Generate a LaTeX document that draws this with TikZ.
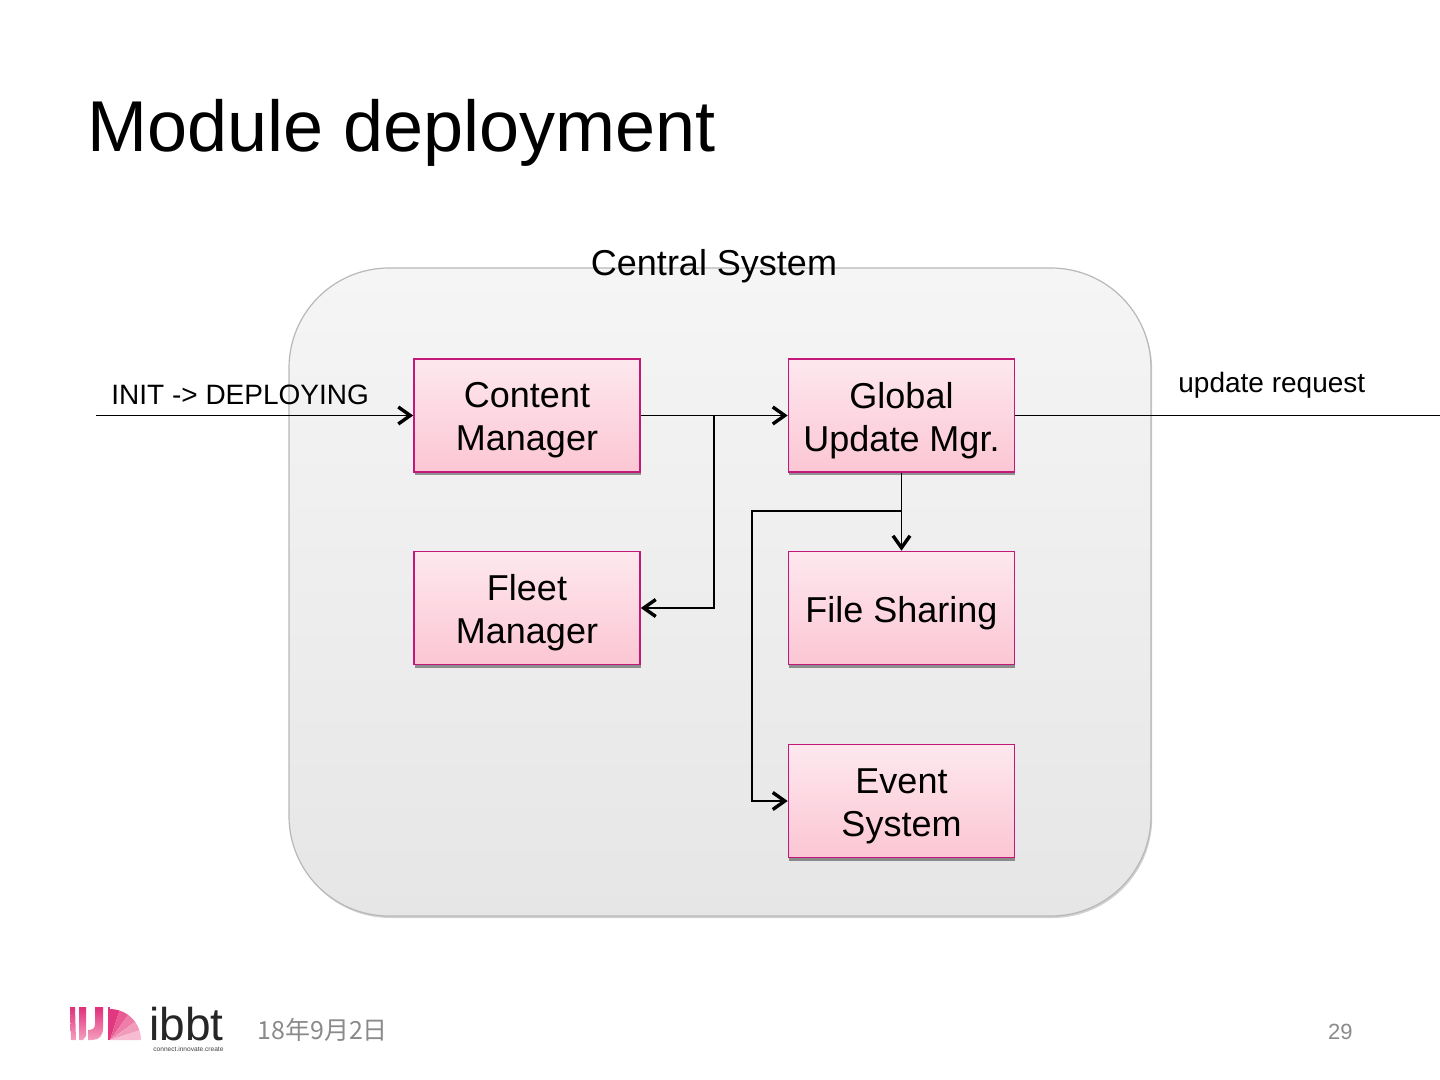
\documentclass[tikz,border=0pt]{standalone}
\usepackage{fontspec}
\setmainfont{Liberation Sans}
\newfontfamily\cjkfont{Noto Sans CJK SC}
\usetikzlibrary{arrows.meta,shadows}
\definecolor{boxborder}{HTML}{C2187A}
\definecolor{boxtop}{HTML}{FDE8EE}
\definecolor{boxbot}{HTML}{FCC6D4}
\definecolor{contop}{HTML}{F5F5F5}
\definecolor{conbot}{HTML}{E6E6E6}
\definecolor{conborder}{HTML}{B8B8B8}
\definecolor{footgray}{HTML}{8A8A8A}
\definecolor{logoA}{HTML}{E0307A}
\definecolor{logoB}{HTML}{F4A0BF}
\definecolor{fanA}{HTML}{E2387F}
\definecolor{fanB}{HTML}{E85C93}
\definecolor{fanC}{HTML}{EE7EA9}
\definecolor{fanD}{HTML}{F29CBC}
\definecolor{fanE}{HTML}{F7BCD2}
\begin{document}
\begin{tikzpicture}[x=0.5pt,y=-0.5pt,
  container/.style={draw=conborder,line width=0.6pt,rounded corners=50pt,
    top color=contop,bottom color=conbot,
    drop shadow={shadow xshift=0.6pt,shadow yshift=-1pt,fill=black,opacity=0.18}},
  modbox/.style={draw=boxborder,line width=0.8pt,top color=boxtop,bottom color=boxbot,
    minimum width=113pt,minimum height=56.5pt,inner sep=0pt,
    drop shadow={shadow xshift=0.3pt,shadow yshift=-1.5pt,fill=black,opacity=0.4}},
  boxtext/.style={inner sep=0pt,align=center,font=\fontsize{18}{21.5}\selectfont,yshift=-2.5pt},
  conn/.style={draw=black,line width=0.7pt},
  arr/.style={conn,-{Straight Barb[length=6pt,width=8.5pt,line width=1.7pt]}},
  lbl/.style={inner sep=0pt,font=\fontsize{14}{16}\selectfont},
]
\useasboundingbox (0,0) rectangle (1440,1080);
% title
\node[anchor=base west,inner sep=0pt,font=\fontsize{36}{40}\selectfont] (title) at (87,152) {Module deployment};
% container
\path[container] (289,268) rectangle (1151,916);
\node[anchor=base,inner sep=0pt,font=\fontsize{18}{21}\selectfont] (central) at (714,276) {Central System};
% modules
\node[modbox] (cm)  at (527,415.5) {};
\node[modbox] (gum) at (901.5,415.5) {};
\node[modbox] (fm)  at (527,608) {};
\node[modbox] (fs)  at (901.5,608) {};
\node[modbox] (es)  at (901.5,801) {};
\node[boxtext] (cmt)  at (cm.center)  {Content\\Manager};
\node[boxtext] (gumt) at (gum.center) {Global\\Update Mgr.};
\node[boxtext] (fmt)  at (fm.center)  {Fleet\\Manager};
\node[boxtext] (fst)  at (fs.center)  {File Sharing};
\node[boxtext] (est)  at (es.center)  {Event\\System};
% connector points
\coordinate (in)  at (96,415.5);
\coordinate (j1)  at (714,415.5);
\coordinate (j2)  at (901.5,511);
\coordinate (j3)  at (752,511);
\coordinate (out) at (1440,415.5);
% connectors
\draw[arr] (in) -- (cm.west);
\draw[arr] (cm.east) -- (gum.west);
\draw[arr] (j1) |- (fm.east);
\draw[arr] (gum.south) -- (fs.north);
\draw[arr] (j2) -- (j3) |- (es.west);
\draw[conn] (gum.east) -- (out);
% labels
\node[lbl,anchor=base west] (initlbl) at (111,405) {INIT -> DEPLOYING};
\node[lbl,anchor=base west] (updlbl) at (1178,393) {update request};
% footer
\node[anchor=base west,inner sep=0pt,text=footgray,font=\cjkfont\fontsize{12.5}{14}\selectfont] (date) at (257,1039) {18年9月2日};
\node[anchor=base east,inner sep=0pt,text=footgray,font=\fontsize{11}{13}\selectfont] (page) at (1353,1039) {29};
% logo
\shade[top color=logoA,bottom color=logoB] (70,1007) -- (75,1007) -- (76,1040) -- (71,1040) -- cycle;
\shade[top color=logoA,bottom color=logoB] (79,1007) -- (86,1007) -- (86,1036) -- (83,1040) -- (79,1040) -- cycle;
\shade[top color=logoA,bottom color=logoB] (95,1007) -- (103,1007) -- (103,1028) .. controls (103,1036) and (99,1040) .. (92,1040) -- (88,1040) -- (88,1030) .. controls (93,1030) and (95,1028) .. (95,1024) -- cycle;
\fill[fanA] (108,1007) rectangle (110,1040);
\foreach \a/\b/\c in {-90/-72/fanA,-72/-54/fanB,-54/-36/fanC,-36/-18/fanD,-18/0/fanE}{
  \fill[\c] (110,1040) -- ++(\a:31) arc[start angle=\a,end angle=\b,radius=31] -- cycle;
}
\node[anchor=base west,inner sep=0pt,text depth=0pt,text=black!85,font=\fontsize{23}{25}\selectfont] (ibbt) at (149,1040) {ibbt};
\node[anchor=base west,inner sep=0pt,text=black!75,font=\fontsize{3.3}{3.5}\selectfont] (tagline) at (153,1051) {connect.innovate.create};
\end{tikzpicture}
\end{document}
